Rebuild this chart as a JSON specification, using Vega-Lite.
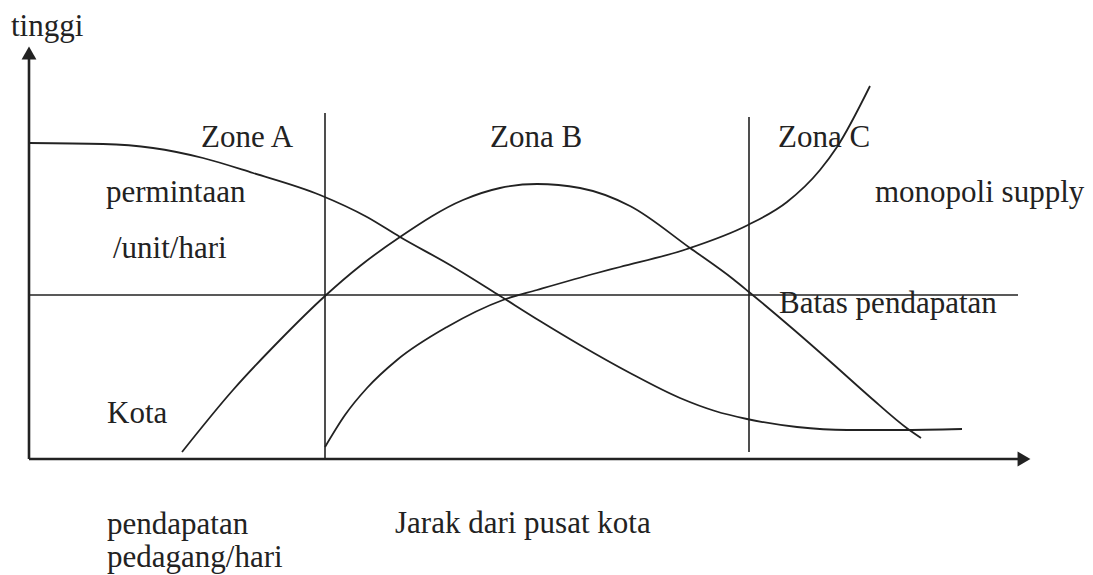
{
  "$schema": "https://vega.github.io/schema/vega-lite/v6.json",
  "width": 1093,
  "height": 575,
  "autosize": {"type": "fit", "contains": "padding"},
  "padding": 0,
  "background": "white",
  "config": {"view": {"stroke": null}},
  "datasets": {
    "segments": [
      {"kind": "axis", "x": 29, "y": 459, "x2": 29, "y2": 58},
      {"kind": "axis", "x": 29, "y": 459, "x2": 1018, "y2": 459},
      {"kind": "guide", "x": 29, "y": 295, "x2": 1018, "y2": 295},
      {"kind": "guide", "x": 325, "y": 113, "x2": 325, "y2": 459},
      {"kind": "guide", "x": 749, "y": 117, "x2": 749, "y2": 452}
    ],
    "arrows": [
      {"dir": "up", "x": 29, "y": 53},
      {"dir": "right", "x": 1024, "y": 459}
    ],
    "curves": [
      {"curve": "permintaan", "x": 29, "y": 143},
      {"curve": "permintaan", "x": 103, "y": 144},
      {"curve": "permintaan", "x": 153, "y": 148},
      {"curve": "permintaan", "x": 203, "y": 158},
      {"curve": "permintaan", "x": 253, "y": 173},
      {"curve": "permintaan", "x": 320, "y": 195},
      {"curve": "permintaan", "x": 367, "y": 217},
      {"curve": "permintaan", "x": 400, "y": 237},
      {"curve": "permintaan", "x": 450, "y": 265},
      {"curve": "permintaan", "x": 497, "y": 294},
      {"curve": "permintaan", "x": 540, "y": 321},
      {"curve": "permintaan", "x": 580, "y": 345},
      {"curve": "permintaan", "x": 630, "y": 373},
      {"curve": "permintaan", "x": 680, "y": 398},
      {"curve": "permintaan", "x": 715, "y": 411},
      {"curve": "permintaan", "x": 747, "y": 419},
      {"curve": "permintaan", "x": 797, "y": 427},
      {"curve": "permintaan", "x": 847, "y": 430},
      {"curve": "permintaan", "x": 900, "y": 430},
      {"curve": "permintaan", "x": 962, "y": 429},
      {"curve": "pendapatan", "x": 182, "y": 452},
      {"curve": "pendapatan", "x": 233, "y": 390},
      {"curve": "pendapatan", "x": 280, "y": 340},
      {"curve": "pendapatan", "x": 325, "y": 296},
      {"curve": "pendapatan", "x": 360, "y": 266},
      {"curve": "pendapatan", "x": 400, "y": 237},
      {"curve": "pendapatan", "x": 463, "y": 200},
      {"curve": "pendapatan", "x": 500, "y": 188},
      {"curve": "pendapatan", "x": 537, "y": 184},
      {"curve": "pendapatan", "x": 580, "y": 188},
      {"curve": "pendapatan", "x": 630, "y": 206},
      {"curve": "pendapatan", "x": 690, "y": 248},
      {"curve": "pendapatan", "x": 733, "y": 279},
      {"curve": "pendapatan", "x": 749, "y": 292},
      {"curve": "pendapatan", "x": 793, "y": 329},
      {"curve": "pendapatan", "x": 833, "y": 364},
      {"curve": "pendapatan", "x": 870, "y": 397},
      {"curve": "pendapatan", "x": 908, "y": 429},
      {"curve": "pendapatan", "x": 921, "y": 438},
      {"curve": "monopoli", "x": 325, "y": 447},
      {"curve": "monopoli", "x": 345, "y": 415},
      {"curve": "monopoli", "x": 367, "y": 388},
      {"curve": "monopoli", "x": 397, "y": 360},
      {"curve": "monopoli", "x": 447, "y": 327},
      {"curve": "monopoli", "x": 503, "y": 300},
      {"curve": "monopoli", "x": 537, "y": 290},
      {"curve": "monopoli", "x": 597, "y": 273},
      {"curve": "monopoli", "x": 620, "y": 267},
      {"curve": "monopoli", "x": 687, "y": 249},
      {"curve": "monopoli", "x": 748, "y": 225},
      {"curve": "monopoli", "x": 787, "y": 202},
      {"curve": "monopoli", "x": 820, "y": 170},
      {"curve": "monopoli", "x": 837, "y": 147},
      {"curve": "monopoli", "x": 870, "y": 86}
    ],
    "labels": [
      {"text": "tinggi", "x": 11, "y": 36},
      {"text": "Zone A", "x": 201, "y": 147},
      {"text": "Zona B", "x": 490, "y": 147},
      {"text": "Zona C", "x": 778, "y": 147},
      {"text": "permintaan", "x": 106, "y": 202},
      {"text": "/unit/hari", "x": 113, "y": 258},
      {"text": "monopoli supply", "x": 875, "y": 202},
      {"text": "Batas pendapatan", "x": 779, "y": 313},
      {"text": "Kota", "x": 107, "y": 423},
      {"text": "pendapatan", "x": 107, "y": 534},
      {"text": "pedagang/hari", "x": 107, "y": 567},
      {"text": "Jarak dari pusat kota", "x": 395, "y": 533}
    ]
  },
  "layer": [
    {
      "data": {"name": "segments"},
      "transform": [{"filter": "datum.kind === 'guide'"}],
      "mark": {"type": "rule", "color": "#222", "strokeWidth": 1.6},
      "encoding": {
        "x": {"field": "x", "type": "quantitative", "scale": {"domain": [0, 1093], "nice": false, "zero": false}, "axis": null},
        "y": {"field": "y", "type": "quantitative", "scale": {"domain": [0, 575], "nice": false, "zero": false, "reverse": true}, "axis": null},
        "x2": {"field": "x2"},
        "y2": {"field": "y2"}
      }
    },
    {
      "data": {"name": "segments"},
      "transform": [{"filter": "datum.kind === 'axis'"}],
      "mark": {"type": "rule", "color": "#222", "strokeWidth": 2.6},
      "encoding": {
        "x": {"field": "x", "type": "quantitative", "scale": {"domain": [0, 1093], "nice": false, "zero": false}, "axis": null},
        "y": {"field": "y", "type": "quantitative", "scale": {"domain": [0, 575], "nice": false, "zero": false, "reverse": true}, "axis": null},
        "x2": {"field": "x2"},
        "y2": {"field": "y2"}
      }
    },
    {
      "data": {"name": "curves"},
      "mark": {"type": "line", "color": "#222", "strokeWidth": 1.8, "interpolate": "monotone"},
      "encoding": {
        "x": {"field": "x", "type": "quantitative", "scale": {"domain": [0, 1093], "nice": false, "zero": false}, "axis": null},
        "y": {"field": "y", "type": "quantitative", "scale": {"domain": [0, 575], "nice": false, "zero": false, "reverse": true}, "axis": null},
        "detail": {"field": "curve"},
        "order": {"field": "x", "type": "quantitative"}
      }
    },
    {
      "data": {"name": "arrows"},
      "transform": [{"filter": "datum.dir === 'up'"}],
      "mark": {"type": "point", "shape": "triangle-up", "filled": true, "color": "#222", "size": 220, "opacity": 1},
      "encoding": {
        "x": {"field": "x", "type": "quantitative", "scale": {"domain": [0, 1093], "nice": false, "zero": false}, "axis": null},
        "y": {"field": "y", "type": "quantitative", "scale": {"domain": [0, 575], "nice": false, "zero": false, "reverse": true}, "axis": null}
      }
    },
    {
      "data": {"name": "arrows"},
      "transform": [{"filter": "datum.dir === 'right'"}],
      "mark": {"type": "point", "shape": "triangle-right", "filled": true, "color": "#222", "size": 220, "opacity": 1},
      "encoding": {
        "x": {"field": "x", "type": "quantitative", "scale": {"domain": [0, 1093], "nice": false, "zero": false}, "axis": null},
        "y": {"field": "y", "type": "quantitative", "scale": {"domain": [0, 575], "nice": false, "zero": false, "reverse": true}, "axis": null}
      }
    },
    {
      "data": {"name": "labels"},
      "mark": {"type": "text", "align": "left", "baseline": "alphabetic", "font": "Liberation Serif", "fontSize": 31, "color": "#222"},
      "encoding": {
        "x": {"field": "x", "type": "quantitative", "scale": {"domain": [0, 1093], "nice": false, "zero": false}, "axis": null},
        "y": {"field": "y", "type": "quantitative", "scale": {"domain": [0, 575], "nice": false, "zero": false, "reverse": true}, "axis": null},
        "text": {"field": "text"}
      }
    }
  ]
}
